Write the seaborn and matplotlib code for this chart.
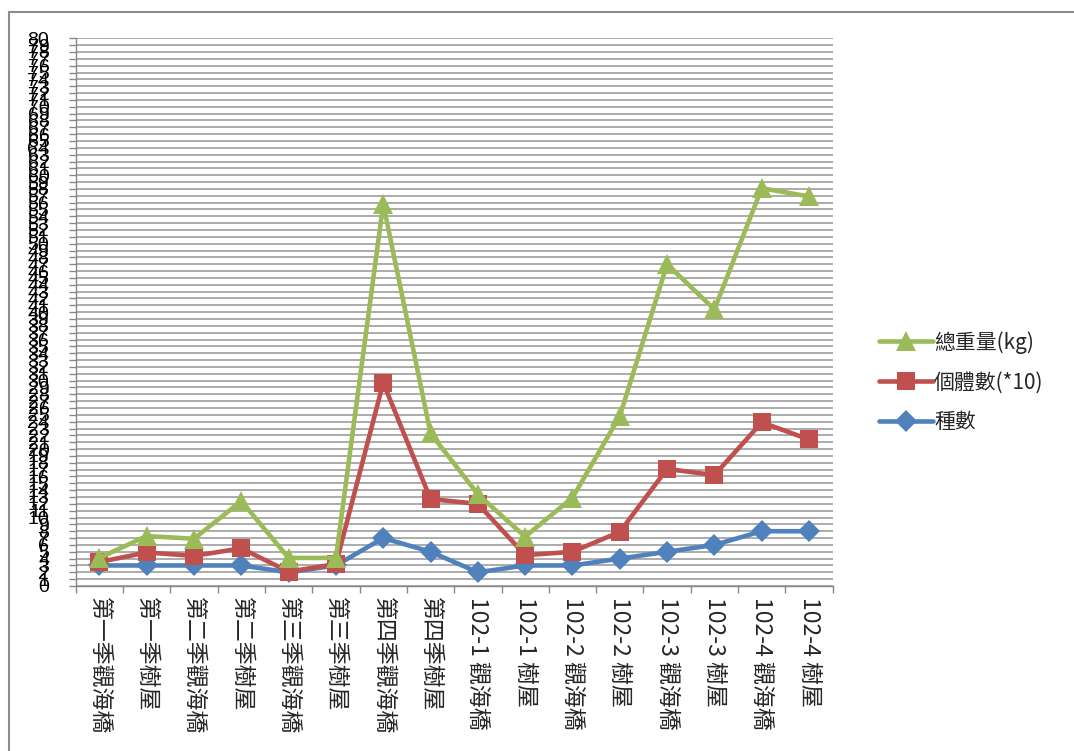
import numpy as np
import pandas as pd
import matplotlib
matplotlib.use("Agg")
import matplotlib.pyplot as plt
from matplotlib.patches import Rectangle
import seaborn as sns

# Sampling sites / seasons
categories = ["第一季觀海橋", "第一季樹屋", "第二季觀海橋", "第二季樹屋",
              "第三季觀海橋", "第三季樹屋", "第四季觀海橋", "第四季樹屋",
              "102-1 觀海橋", "102-1 樹屋", "102-2 觀海橋", "102-2 樹屋",
              "102-3 觀海橋", "102-3 樹屋", "102-4 觀海橋", "102-4 樹屋"]

# Total weight (kg)
total_weight = [4.1, 7.3, 6.9, 12.4, 4.1, 4.1, 55.8, 22.3,
                13.4, 7.2, 12.9, 24.8, 47.0, 40.4, 58.1, 56.9]
# Individual count (x10)
individuals = [3.5, 4.9, 4.4, 5.5, 2.1, 3.2, 29.7, 12.7,
               12.0, 4.5, 5.0, 7.9, 17.1, 16.2, 23.9, 21.4]
# Number of species
species = [3, 3, 3, 3, 2, 3, 7, 5, 2, 3, 3, 4, 5, 6, 8, 8]

label_weight = "總重量(kg)"
label_ind = "個體數(*10)"
label_species = "種數"

y_ticks = list(range(0, 81))

sns.set_theme(style="white")
plt.rcParams["font.family"] = ["Noto Sans CJK TC", "DejaVu Sans"]

fig = plt.figure(figsize=(10.74, 7.51), dpi=100)
ax = fig.add_axes([75.7 / 1074, 1 - 586 / 751, (832.7 - 75.7) / 1074, (586 - 38.3) / 751])

x = np.arange(len(categories))
df = pd.DataFrame({"pos": x, "weight": total_weight, "ind": individuals, "sp": species})

blue = "#4F81BD"
red = "#C0504D"
green = "#9BBB59"

sns.lineplot(data=df, x="pos", y="sp", ax=ax, color=blue, lw=3.3, marker="D",
             markersize=11, markeredgewidth=0, label=label_species, zorder=3)
sns.lineplot(data=df, x="pos", y="ind", ax=ax, color=red, lw=3.3, marker="s",
             markersize=13, markeredgewidth=0, label=label_ind, zorder=4)
sns.lineplot(data=df, x="pos", y="weight", ax=ax, color=green, lw=3.3, marker="^",
             markersize=15, markeredgewidth=0, label=label_weight, zorder=5)

ax.set_xlim(-0.5, len(categories) - 0.5)
ax.set_ylim(0, 80)
ax.set_xlabel("")
ax.set_ylabel("")

# Horizontal gridlines at every unit
ax.set_yticks(y_ticks)
ax.set_yticklabels([str(v) for v in y_ticks], family=["Liberation Sans", "DejaVu Sans"],
                   fontsize=14)
ax.yaxis.grid(True, color="#959595", lw=1.1)
ax.set_axisbelow(True)
ax.tick_params(axis="y", which="major", left=True, length=5, width=1, color="#888888",
               pad=14, labelcolor="black")

# Category labels at centres, tick marks at boundaries
ax.set_xticks(x)
ax.set_xticklabels(categories, rotation=-90, va="top", ha="center", fontsize=16.5)
ax.set_xticks(np.arange(-0.5, len(categories)), minor=True)
ax.tick_params(axis="x", which="major", length=0, pad=8)
ax.tick_params(axis="x", which="minor", bottom=True, length=5, width=1, color="#888888")

for side in ["top", "right"]:
    ax.spines[side].set_visible(False)
for side in ["left", "bottom"]:
    ax.spines[side].set_color("#888888")
    ax.spines[side].set_linewidth(1.0)

handles, labels = ax.get_legend_handles_labels()
ax.legend(handles[::-1], labels[::-1], loc="center left",
          bbox_to_anchor=(860 / 1074, 1 - 382 / 751), bbox_transform=fig.transFigure,
          frameon=False, fontsize=15, handlelength=2.6, handletextpad=0.05,
          labelspacing=0.85)

# Outer chart border
fig.patches.append(Rectangle((9 / 1074, -0.02), 1.05, 1 - 12 / 751 + 0.02,
                             transform=fig.transFigure, fill=False,
                             edgecolor="#8c8c8c", lw=1.5))

fig.savefig("out.png", dpi=100)
